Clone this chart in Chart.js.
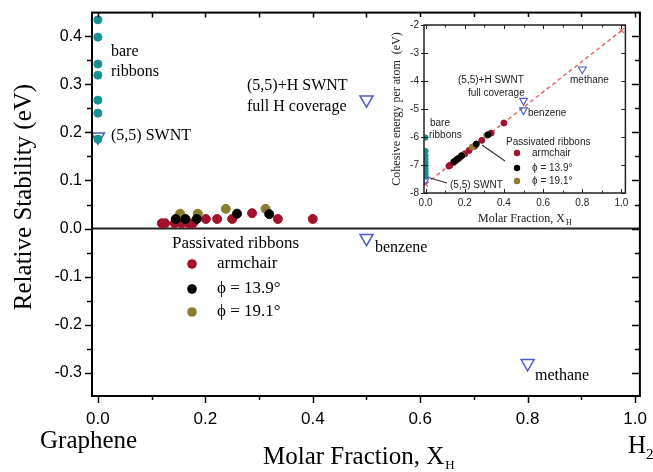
<!DOCTYPE html>
<html>
<head>
<meta charset="utf-8">
<script src="https://cdn.jsdelivr.net/npm/chart.js@4.4.1/dist/chart.umd.min.js"></script>
<style>
  html, body { margin: 0; padding: 0; background: #fff; }
  #wrap { position: relative; width: 653px; height: 472px; overflow: hidden; }
  #main { position: absolute; left: 0; top: 0; }
  #inset { position: absolute; left: 384px; top: 17px; }
</style>
</head>
<body>
<div id="wrap">
  <canvas id="main" width="653" height="472"></canvas>
  <canvas id="inset" width="247" height="210"></canvas>
</div>
<script>
// main panel: relative stability (eV) vs molar fraction X_H
const bareX = [0, 0, 0, 0, 0, 0, 0];
const bareY = [0.434, 0.398, 0.342, 0.319, 0.267, 0.240, 0.186];
const armX = [0.119, 0.125, 0.143, 0.156, 0.169, 0.177, 0.201, 0.222, 0.250, 0.287, 0.335, 0.400];
const armY = [0.011, 0.011, 0.011, 0.011, 0.011, 0.011, 0.020, 0.020, 0.020, 0.032, 0.020, 0.020];
const phi139X = [0.145, 0.163, 0.184, 0.259, 0.319];
const phi139Y = [0.020, 0.020, 0.020, 0.031, 0.030];
const phi191X = [0.153, 0.186, 0.238, 0.312];
const phi191Y = [0.031, 0.031, 0.041, 0.041];
const structNames = ['(5,5) SWNT', '(5,5)+H SWNT', 'benzene', 'methane'];
const structX = [0, 0.5, 0.5, 0.8];
const structY = [0.191, 0.268, -0.020, -0.280];

const xTickValues = [0, 0.1, 0.2, 0.3, 0.4, 0.5, 0.6, 0.7, 0.8, 0.9, 1.0];
const xTickLabels = ['0.0', '', '0.2', '', '0.4', '', '0.6', '', '0.8', '', '1.0'];
const yTickValues = [-0.3, -0.25, -0.2, -0.15, -0.1, -0.05, 0, 0.05, 0.1, 0.15, 0.2, 0.25, 0.3, 0.35, 0.4];
const yTickLabels = ['-0.3', '', '-0.2', '', '-0.1', '', '0.0', '', '0.1', '', '0.2', '', '0.3', '', '0.4'];

// inset: cohesive energy per atom (eV)
const insetBareX = [0, 0, 0, 0, 0, 0, 0, 0, 0, 0];
const insetBareY = [-6.02, -6.50, -6.66, -6.79, -6.91, -7.02, -7.12, -7.22, -7.32, -7.42];
const insetArmY = [-7.04, -7.01, -6.91, -6.84, -6.77, -6.72, -6.60, -6.48, -6.33, -6.12, -5.86, -5.50];
const insetPhi139Y = [-6.88, -6.78, -6.67, -6.25, -5.92];
const insetPhi191Y = [-6.83, -6.65, -6.36, -5.94];
const insetStructY = [-7.52, -4.70, -5.04, -3.58];
const limitX = [0, 1];          // graphene .. H2
const limitY = [-7.68, -2.20];

const insetXTickLabels = ['0.0', '', '0.2', '', '0.4', '', '0.6', '', '0.8', '', '1.0'];
const insetYTickValues = [-8, -7, -6, -5, -4, -3, -2];
const insetYTickLabels = ['-8', '-7', '-6', '-5', '-4', '-3', '-2'];

const teal = '#17918f';
const red = '#a3122c';
const olive = '#8b7d2e';
const blue = '#4a5cc4';
const serif = '"Liberation Serif", "Times New Roman", serif';
const sans = '"Liberation Sans", Arial, sans-serif';

function pts(xs, ys) {
  return xs.map((x, i) => ({ x: x, y: ys[i] }));
}

function dot(color, r, order) {
  return { backgroundColor: color, borderColor: color, borderWidth: 1, pointRadius: r, pointHoverRadius: r, order: order };
}

function label(ctx, s, x, y, font, align) {
  ctx.font = font;
  ctx.textAlign = align || 'left';
  ctx.textBaseline = 'middle';
  ctx.fillText(s, x, y);
}

// frame, zero line, tick marks and the annotations of the main panel
const mainDecor = {
  id: 'mainDecor',
  beforeDatasetsDraw(chart) {
    const { ctx, chartArea: a, scales: { y } } = chart;
    const y0 = y.getPixelForValue(0);
    ctx.save();
    ctx.strokeStyle = '#222';
    ctx.lineWidth = 2;
    ctx.beginPath();
    ctx.moveTo(a.left, y0);
    ctx.lineTo(a.right, y0);
    ctx.stroke();
    ctx.restore();
  },
  afterDraw(chart) {
    const { ctx, chartArea: a, scales: { x, y } } = chart;
    ctx.save();
    ctx.strokeStyle = '#000';
    ctx.lineWidth = 2;
    ctx.strokeRect(a.left, a.top, a.right - a.left, a.bottom - a.top);
    ctx.lineWidth = 1.5;
    ctx.beginPath();
    x.ticks.forEach((t, i) => {
      const px = Math.round(x.getPixelForValue(t.value)) + 0.5;
      const major = xTickLabels[i] !== '';
      ctx.moveTo(px, a.bottom); ctx.lineTo(px, a.bottom + (major ? 7 : 4));
      ctx.moveTo(px, a.top); ctx.lineTo(px, a.top + 5);
    });
    y.ticks.forEach((t, i) => {
      const py = Math.round(y.getPixelForValue(t.value)) + 0.5;
      const major = yTickLabels[i] !== '';
      ctx.moveTo(a.left, py); ctx.lineTo(a.left - (major ? 7 : 5), py);
      ctx.moveTo(a.right, py); ctx.lineTo(a.right - (major ? 8 : 5), py);
    });
    ctx.stroke();

    ctx.fillStyle = '#000';
    const f16 = '16px ' + serif;
    label(ctx, 'bare', 111, 52, f16);
    label(ctx, 'ribbons', 111, 72, f16);
    label(ctx, structNames[0], 111, 136, f16);
    label(ctx, structNames[1], 247, 86, f16);
    label(ctx, 'full H coverage', 247, 107, f16);
    label(ctx, structNames[2], 375, 248, f16);
    label(ctx, structNames[3], 535, 376, f16);

    // legend
    const f17 = '17px ' + serif;
    label(ctx, 'Passivated ribbons', 172, 244, f17);
    const legend = [[red, 'armchair', 264], ['#000', 'ϕ = 13.9°', 289], [olive, 'ϕ = 19.1°', 312]];
    legend.forEach(l => {
      ctx.fillStyle = l[0];
      ctx.beginPath(); ctx.arc(192, l[2], 4.8, 0, Math.PI * 2); ctx.fill();
      ctx.fillStyle = '#000';
      label(ctx, l[1], 217, l[2], f17);
    });

    // axis titles
    const f25 = '25px ' + serif;
    ctx.save();
    ctx.translate(24, 197);
    ctx.rotate(-Math.PI / 2);
    label(ctx, 'Relative Stability (eV)', 0, 0, f25, 'center');
    ctx.restore();
    label(ctx, 'Graphene', 40, 441, f25);
    ctx.textBaseline = 'alphabetic';
    ctx.font = f25; ctx.textAlign = 'left';
    ctx.fillText('H', 628, 453);
    ctx.font = '15px ' + serif;
    ctx.fillText('2', 646, 459);
    ctx.font = f25;
    const t = 'Molar Fraction, X';
    ctx.fillText(t, 263, 464);
    const w = ctx.measureText(t).width;
    ctx.font = '13px ' + serif;
    ctx.fillText('H', 263 + w + 1, 469);
    ctx.restore();
  }
};

new Chart(document.getElementById('main'), {
  type: 'scatter',
  data: {
    datasets: [
      Object.assign({ label: 'bare ribbons', data: pts(bareX, bareY) }, dot(teal, 4, 4)),
      Object.assign({ label: 'armchair', data: pts(armX, armY) }, dot(red, 4.5, 3)),
      Object.assign({ label: 'ϕ = 19.1°', data: pts(phi191X, phi191Y) }, dot(olive, 4.5, 2)),
      Object.assign({ label: 'ϕ = 13.9°', data: pts(phi139X, phi139Y) }, dot('#000', 4.5, 1)),
      {
        label: 'structures', data: pts(structX, structY), order: 5,
        pointStyle: 'triangle', rotation: 180, pointRadius: 7.5, pointHoverRadius: 7.5,
        backgroundColor: 'rgba(255,255,255,0)', borderColor: blue, borderWidth: 1.5
      }
    ]
  },
  options: {
    responsive: false,
    animation: false,
    devicePixelRatio: 1,
    layout: { padding: { left: 0, right: 13, top: 11, bottom: 0 } },
    plugins: { legend: { display: false }, tooltip: { enabled: false } },
    scales: {
      x: {
        type: 'linear', min: -0.011, max: 1.009,
        afterBuildTicks: s => { s.ticks = xTickValues.map(v => ({ value: v })); },
        afterFit: s => { s.height = 76; },
        grid: { display: false, drawTicks: true, tickLength: 7 },
        border: { display: false },
        ticks: {
          autoSkip: false, maxRotation: 0, padding: 6, color: '#000',
          font: { family: sans, size: 17 },
          callback: (v, i) => xTickLabels[i]
        }
      },
      y: {
        type: 'linear', min: -0.348, max: 0.449,
        afterBuildTicks: s => { s.ticks = yTickValues.map(v => ({ value: v })); },
        afterFit: s => { s.width = 92; },
        grid: { display: false, drawTicks: true, tickLength: 7 },
        border: { display: false },
        ticks: {
          autoSkip: false, padding: 3, color: '#000',
          font: { family: sans, size: 16 },
          callback: (v, i) => yTickLabels[i]
        }
      }
    }
  },
  plugins: [mainDecor]
});

// inset
const insetDecor = {
  id: 'insetDecor',
  beforeDraw(chart) {
    const ctx = chart.ctx;
    ctx.save();
    ctx.fillStyle = '#fff';
    ctx.fillRect(0, 0, chart.width, chart.height);
    ctx.restore();
  },
  afterDraw(chart) {
    const { ctx, chartArea: a, scales: { x, y } } = chart;
    ctx.save();
    ctx.strokeStyle = '#222';
    ctx.lineWidth = 1.5;
    ctx.strokeRect(a.left, a.top, a.right - a.left, a.bottom - a.top);
    ctx.lineWidth = 1;
    ctx.beginPath();
    x.ticks.forEach((t, i) => {
      const px = Math.round(x.getPixelForValue(t.value)) + 0.5;
      const len = insetXTickLabels[i] !== '' ? 4 : 2.5;
      ctx.moveTo(px, a.bottom); ctx.lineTo(px, a.bottom - len);
      ctx.moveTo(px, a.top); ctx.lineTo(px, a.top + len);
    });
    y.ticks.forEach(t => {
      const py = Math.round(y.getPixelForValue(t.value)) + 0.5;
      ctx.moveTo(a.left - 3, py); ctx.lineTo(a.left + 4, py);
      ctx.moveTo(a.right, py); ctx.lineTo(a.right - 4, py);
    });
    ctx.stroke();

    // leader lines
    ctx.strokeStyle = '#333';
    ctx.lineWidth = 1.2;
    ctx.beginPath();
    ctx.moveTo(46, 161); ctx.lineTo(63, 166);
    ctx.moveTo(98, 128); ctx.lineTo(121, 144);
    ctx.stroke();

    ctx.fillStyle = '#222';
    const f10 = '10px ' + sans;
    label(ctx, structNames[1], 74, 63, f10);
    label(ctx, 'full coverage', 84, 76, f10);
    label(ctx, structNames[3], 186, 63, f10);
    label(ctx, structNames[2], 144, 96, f10);
    label(ctx, 'bare', 46, 106, f10);
    label(ctx, 'ribbons', 45, 118, f10);
    label(ctx, structNames[0], 66, 168, f10);
    label(ctx, 'Passivated ribbons', 122, 125, f10);
    const legend = [[red, 'armchair', 136], ['#000', 'ϕ = 13.9°', 151], [olive, 'ϕ = 19.1°', 164]];
    legend.forEach(l => {
      ctx.fillStyle = l[0];
      ctx.beginPath(); ctx.arc(133, l[2], 3.2, 0, Math.PI * 2); ctx.fill();
      ctx.fillStyle = '#222';
      label(ctx, l[1], 148, l[2], f10);
    });

    const f12 = '12px ' + serif;
    ctx.save();
    ctx.translate(13, 92);
    ctx.rotate(-Math.PI / 2);
    label(ctx, 'Cohesive energy per atom  (eV)', 0, 0, f12, 'center');
    ctx.restore();
    ctx.textBaseline = 'alphabetic';
    ctx.textAlign = 'left';
    ctx.font = f12;
    const t = 'Molar Fraction, X';
    ctx.fillText(t, 94, 205);
    const w = ctx.measureText(t).width;
    ctx.font = '8px ' + serif;
    ctx.fillText('H', 94 + w + 1, 208);
    ctx.restore();
  }
};

new Chart(document.getElementById('inset'), {
  type: 'scatter',
  data: {
    datasets: [
      {
        type: 'line', label: 'linear', data: pts(limitX, limitY), order: 9,
        borderColor: 'rgb(226,104,104)', borderWidth: 1.5, borderDash: [4, 3],
        pointStyle: 'crossRot', pointRadius: 3.5, pointHoverRadius: 3.5,
        pointBorderColor: 'rgb(226,104,104)', pointBorderWidth: 1.3, fill: false
      },
      Object.assign({ label: 'bare ribbons', data: pts(insetBareX, insetBareY) }, dot(teal, 2.6, 4)),
      Object.assign({ label: 'armchair', data: pts(armX, insetArmY) }, dot(red, 3, 3)),
      Object.assign({ label: 'ϕ = 19.1°', data: pts(phi191X, insetPhi191Y) }, dot(olive, 3, 2)),
      Object.assign({ label: 'ϕ = 13.9°', data: pts(phi139X, insetPhi139Y) }, dot('#000', 3, 1)),
      {
        label: 'structures', data: pts(structX, insetStructY), order: 0,
        pointStyle: 'triangle', rotation: 180, pointRadius: 4.5, pointHoverRadius: 4.5,
        backgroundColor: 'rgba(255,255,255,0)', borderColor: blue, borderWidth: 1.1
      }
    ]
  },
  options: {
    responsive: false,
    animation: false,
    devicePixelRatio: 1,
    layout: { padding: { left: 0, right: 2, top: 5, bottom: 0 } },
    plugins: { legend: { display: false }, tooltip: { enabled: false } },
    scales: {
      x: {
        type: 'linear', min: -0.008, max: 1.02,
        afterBuildTicks: s => { s.ticks = xTickValues.map(v => ({ value: v })); },
        afterFit: s => { s.height = 34; },
        grid: { display: false, drawTicks: true, tickLength: 3 },
        border: { display: false },
        ticks: {
          autoSkip: false, maxRotation: 0, padding: 1, color: '#222',
          font: { family: sans, size: 10 },
          callback: (v, i) => insetXTickLabels[i]
        }
      },
      y: {
        type: 'linear', min: -8, max: -2,
        afterBuildTicks: s => { s.ticks = insetYTickValues.map(v => ({ value: v })); },
        afterFit: s => { s.width = 40; },
        grid: { display: false, drawTicks: true, tickLength: 3 },
        border: { display: false },
        ticks: {
          autoSkip: false, padding: 2, color: '#222',
          font: { family: sans, size: 10 },
          callback: (v, i) => insetYTickLabels[i]
        }
      }
    }
  },
  plugins: [insetDecor]
});
</script>
</body>
</html>
